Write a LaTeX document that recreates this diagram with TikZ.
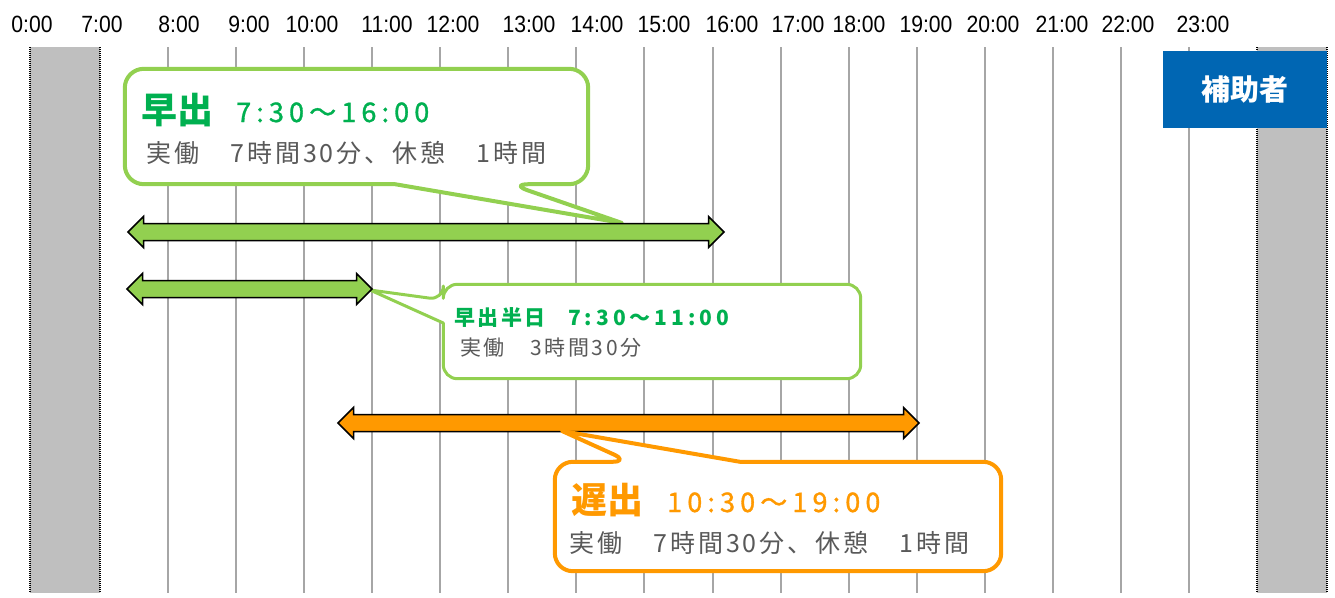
\documentclass[tikz,border=0pt]{standalone}
\usepackage{fontspec}
\setmainfont{Noto Sans CJK JP}
\newfontfamily\hourfont[FakeStretch=0.9]{Liberation Sans}
\newfontfamily\rangefont[LetterSpace=19]{Noto Sans CJK JP}
\newfontfamily\rangemid[LetterSpace=19, FakeBold=1.2]{Noto Sans CJK JP}
\newfontfamily\workfont[LetterSpace=12]{Noto Sans CJK JP}
\usetikzlibrary{shapes.arrows, calc}

\definecolor{leaf}{HTML}{92D050}
\definecolor{deepgreen}{HTML}{00B050}
\definecolor{amber}{HTML}{FF9900}
\definecolor{slate}{HTML}{595959}
\definecolor{bandgray}{HTML}{BFBFBF}
\definecolor{gridgray}{HTML}{A6A6A6}
\definecolor{navy}{HTML}{0066B3}

\begin{document}
\begin{tikzpicture}
	[x=1pt, y=-1pt,
	hour/.style={font=\hourfont\fontsize{23.5}{24}\selectfont, inner sep=0pt},
	gridline/.style={gridgray, line width=2pt},
	bandedge/.style={black, line width=1.5pt, dash pattern=on 1pt off 1pt},
	span/.style={double arrow, draw=black, line width=1.5pt, inner xsep=0pt,
		inner ysep=7.75pt, double arrow head extend=7pt, minimum width=0pt},
	bubble/.style={draw=#1, fill=white, line width=4pt, line join=round},
	txt/.style={inner sep=0pt, anchor=base west}]
	\useasboundingbox (0,0) rectangle (1335,597);

	% off hours
	\fill[bandgray] (30,47) rectangle (100,593);
	\fill[bandgray] (1257,47) rectangle (1327,593);
	\foreach \x in {30,100,1257,1327}
	\draw[bandedge] (\x,47) -- (\x,593);

	\foreach \h in {1,...,16}
	\draw[gridline] ({100+\h*68.06},47) -- ({100+\h*68.06},593);

	\foreach \t/\x in {0:00/32,7:00/102,8:00/179,9:00/249,10:00/312,11:00/387,
		12:00/453,13:00/529,14:00/597,15:00/664,16:00/732,17:00/798,18:00/859,
		19:00/926,20:00/993,21:00/1062,22:00/1128,23:00/1203}
	\node[hour] (h\x) at (\x,24) {\t};

	\node[fill=navy, text=white, font=\fontsize{29}{29}\selectfont\bfseries,
		minimum width=164, minimum height=77, inner sep=0pt] (aux) at (1245,89.5) {補助者};

	% callout boxes and pointer tips
	\node[minimum width=463, minimum height=115, inner sep=0pt] (b1) at (356.5,126.5) {};
	\node[minimum width=417, minimum height=94, inner sep=0pt] (b2) at (652,331.5) {};
	\node[minimum width=446, minimum height=109, inner sep=0pt] (b3) at (778,516.5) {};
	\coordinate (p1) at (622,223);
	\coordinate (p2) at (370,290);
	\coordinate (p3) at (562,431);

	\draw[bubble=leaf] (395,0 |- b1.south) [rounded corners=19] -- (b1.south west)
		-- (b1.north west) -- (b1.north east) -- (b1.south east)
		-- (510,0 |- b1.south) [sharp corners] -- (p1) -- cycle;
	\draw[bubble=leaf, line width=3pt] (b2.west |- 0,323) [rounded corners=14] -- (b2.south west)
		-- (b2.south east) -- (b2.north east) -- (b2.north west)
		-- (b2.west |- 0,300) [sharp corners] -- (p2) -- cycle;

	% shifts
	\node[span, fill=leaf, minimum height=596] (a1) at (426,232) {};
	\node[span, fill=leaf, minimum height=245] (a2) at (249.5,289) {};
	\node[span, fill=amber, minimum height=581] (a3) at (628.5,423) {};

	\draw[bubble=amber] (740,0 |- b3.north) [rounded corners=18] -- (b3.north east)
		-- (b3.south east) -- (b3.south west) -- (b3.north west)
		-- (630,0 |- b3.north) [sharp corners] -- (p3) -- cycle;

	\node[txt, text=deepgreen, font=\fontsize{36}{36}\selectfont\bfseries] (t1) at (141,123) {早出};
	\node[txt, text=deepgreen, font=\rangemid\fontsize{27}{27}\selectfont] (r1) at (236,122) {7:30〜16:00};
	\node[txt, text=slate, font=\workfont\fontsize{25}{25}\selectfont] (w1) at (146,162) {実働　7時間30分、休憩　1時間};

	\node[txt, text=deepgreen, font=\workfont\fontsize{21}{21}\selectfont\bfseries] (t2) at (454,325) {早出半日};
	\node[txt, text=deepgreen, font=\rangefont\fontsize{21}{21}\selectfont\bfseries] (r2) at (568,325) {7:30〜11:00};
	\node[txt, text=slate, font=\workfont\fontsize{21}{21}\selectfont] (w2) at (460,355) {実働　3時間30分};

	\node[txt, text=amber, font=\fontsize{36}{36}\selectfont\bfseries] (t3) at (571,513) {遅出};
	\node[txt, text=amber, font=\rangemid\fontsize{27}{27}\selectfont] (r3) at (667,512) {10:30〜19:00};
	\node[txt, text=slate, font=\workfont\fontsize{25}{25}\selectfont] (w3) at (569,552) {実働　7時間30分、休憩　1時間};
\end{tikzpicture}
\end{document}
